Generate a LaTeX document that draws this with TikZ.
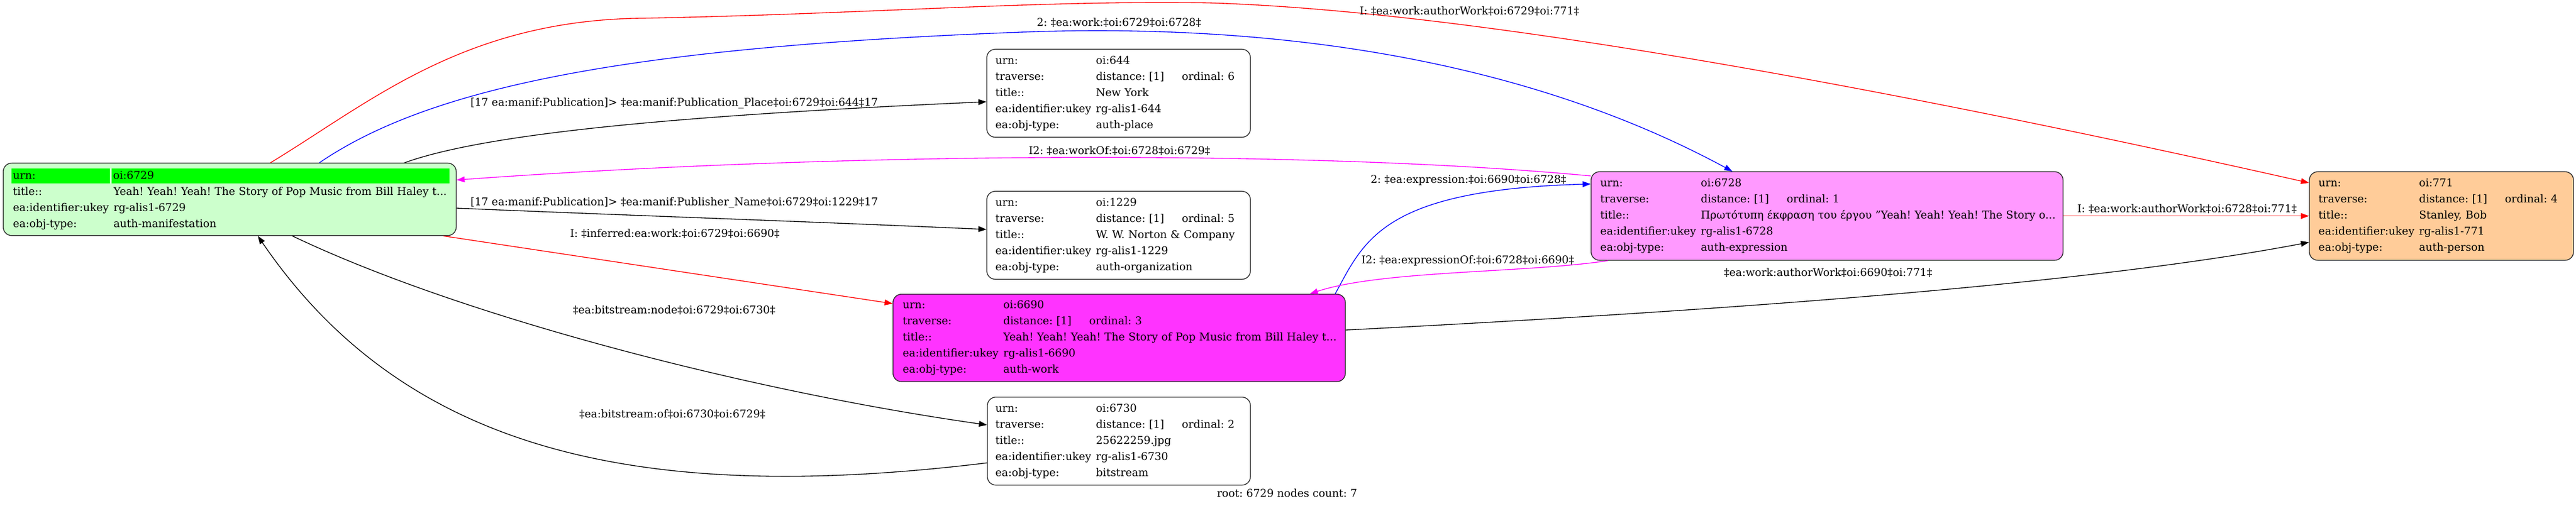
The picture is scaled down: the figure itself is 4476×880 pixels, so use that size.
\documentclass[tikz,border=0pt]{standalone}
\usepackage{fontspec}
\setmainfont{DejaVu Serif}
\usetikzlibrary{arrows.meta,calc}

\definecolor{mangreen}{HTML}{CCFFCC}
\definecolor{hdrgreen}{HTML}{00FF00}
\definecolor{workpink}{HTML}{FF33FF}
\definecolor{exprpink}{HTML}{FF99FF}
\definecolor{personorange}{HTML}{FFCC99}
\definecolor{edgemagenta}{HTML}{FF00FF}

\setlength{\fboxsep}{0pt}
\frenchspacing
\newcommand\recfont{\fontsize{14pt}{21pt}\selectfont}
\newcommand\fld[2]{\mbox{\makebox[131pt][l]{#1}#2}}
\newcommand\trv[1]{\fld{traverse:}{\makebox[112pt][l]{distance: [1]}ordinal: #1}}
\newcommand\hdrcell[2]{\colorbox{hdrgreen}{\rule[-5.5pt]{0pt}{19.5pt}\hspace{2.25pt}\makebox[#1][l]{#2}}}

\tikzset{every picture/.style={line width=0.75pt}}
\tikzset{
  recbox/.style={draw=black!85, line width=1pt, rounded corners=11pt, anchor=north west,
    align=left, font=\recfont, inner xsep=11.25pt, inner ysep=0pt},
  lnk/.style={line width=1pt, -{Triangle[length=10.5pt,width=7.5pt]}},
  lbl/.style={font=\recfont, inner sep=0pt, anchor=west}
}

\begin{document}
\begin{tikzpicture}[x=0.75pt,y=0.75pt,yscale=-1,xscale=1]
	\fill[white] (0,0) rectangle (4476,880);
	\useasboundingbox (0,0) rectangle (4476,880);
	
	%Shape: Rounded Rect [root 6729]
	\node[recbox, fill=mangreen, inner xsep=12.75pt, text width=564.75pt, minimum height=94.5pt] (n6729) at (5,283)
	{\mbox{\hspace*{-2.25pt}\hdrcell{126pt}{urn:}\hspace{2.25pt}\hdrcell{438pt}{oi:6729}}\\
	 \fld{title::}{Yeah! Yeah! Yeah! The Story of Pop Music from Bill Haley t...}\\
	 \fld{ea:identifier:ukey}{rg-alis1-6729}\\
	 \fld{ea:obj-type:}{auth-manifestation}};
	%Shape: Rounded Rect [644]
	\node[recbox, text width=321pt, minimum height=114.75pt] (n644) at (1714,85)
	{\fld{urn:}{oi:644}\\ \trv{6}\\ \fld{title::}{New York}\\
	 \fld{ea:identifier:ukey}{rg-alis1-644}\\ \fld{ea:obj-type:}{auth-place}};
	%Shape: Rounded Rect [1229]
	\node[recbox, text width=321pt, minimum height=114.75pt] (n1229) at (1714,332)
	{\fld{urn:}{oi:1229}\\ \trv{5}\\ \fld{title::}{W. W. Norton \& Company}\\
	 \fld{ea:identifier:ukey}{rg-alis1-1229}\\ \fld{ea:obj-type:}{auth-organization}};
	%Shape: Rounded Rect [6690]
	\node[recbox, fill=workpink, inner xsep=12.75pt, text width=564pt, minimum height=114pt] (n6690) at (1551,511)
	{\fld{urn:}{oi:6690}\\ \trv{3}\\ \fld{title::}{Yeah! Yeah! Yeah! The Story of Pop Music from Bill Haley t...}\\
	 \fld{ea:identifier:ukey}{rg-alis1-6690}\\ \fld{ea:obj-type:}{auth-work}};
	%Shape: Rounded Rect [6730]
	\node[recbox, inner xsep=10.5pt, text width=321.75pt, minimum height=114.75pt] (n6730) at (1715,690)
	{\fld{urn:}{oi:6730}\\ \trv{2}\\ \fld{title::}{25622259.jpg}\\
	 \fld{ea:identifier:ukey}{rg-alis1-6730}\\ \fld{ea:obj-type:}{bitstream}};
	%Shape: Rounded Rect [6728]
	\node[recbox, fill=exprpink, inner xsep=12pt, text width=591pt, minimum height=115.5pt] (n6728) at (2764,298)
	{\fld{urn:}{oi:6728}\\ \trv{1}\\ \fld{title::}{Πρωτότυπη έκφραση του έργου "Yeah! Yeah! Yeah! The Story o...}\\
	 \fld{ea:identifier:ukey}{rg-alis1-6728}\\ \fld{ea:obj-type:}{auth-expression}};
	%Shape: Rounded Rect [771]
	\node[recbox, fill=personorange, inner xsep=12pt, text width=320.25pt, minimum height=115.5pt] (n771) at (4012,298)
	{\fld{urn:}{oi:771}\\ \trv{4}\\ \fld{title::}{Stanley, Bob}\\
	 \fld{ea:identifier:ukey}{rg-alis1-771}\\ \fld{ea:obj-type:}{auth-person}};
	
	%Curve Lines [6729 -> 771]
	\draw[lnk, red] ($(n6729.north west)+(465,0)$) .. controls (640,180) and (800,40) .. (1100,32)
	  .. controls (1500,25) and (1800,0) .. (2100,5) .. controls (2600,20) and (3400,180) .. ($(n771.north west)+(0,20)$);
	%Curve Lines [6729 -> 6728]
	\draw[lnk, blue] ($(n6729.north west)+(550,0)$) .. controls (750,150) and (1100,80) .. (1800,55)
	  .. controls (2300,40) and (2700,130) .. ($(n6728.north west)+(246,0)$);
	%Curve Lines [6729 -> 644]
	\draw[lnk] ($(n6729.north west)+(698,0)$) .. controls (850,230) and (1200,200) .. ($(n644.north west)+(0,92)$);
	%Curve Lines [6729 -> 1229]
	\draw[lnk] ($(n6729.north east)+(0,79)$) .. controls (1100,375) and (1400,385) .. ($(n1229.north west)+(0,67)$);
	%Straight Lines [6729 -> 6690]
	\draw[lnk, red] ($(n6729.south east)+(-23,0)$) -- ($(n6690.north west)+(0,17)$);
	%Curve Lines [6729 -> 6730]
	\draw[lnk] ($(n6729.south west)+(503,0)$) .. controls (800,550) and (1300,680) .. ($(n6730.north west)+(0,49)$);
	%Curve Lines [6730 -> 6729]
	\draw[lnk] ($(n6730.north west)+(0,115)$) .. controls (1100,880) and (700,780) .. ($(n6729.south west)+(443,0)$);
	%Curve Lines [6728 -> 6729]
	\draw[lnk, edgemagenta] ($(n6728.north west)+(0,8)$) .. controls (2300,262) and (1500,262) .. ($(n6729.north east)+(0,30)$);
	%Curve Lines [6690 -> 6728]
	\draw[lnk, blue] ($(n6690.north west)+(769,0)$) .. controls (2370,420) and (2400,330) .. ($(n6728.north west)+(0,22)$);
	%Curve Lines [6728 -> 6690]
	\draw[lnk, edgemagenta] ($(n6728.south west)+(30,0)$) .. controls (2650,475) and (2400,470) .. ($(n6690.north west)+(725,0)$);
	%Straight Lines [6728 -> 771]
	\draw[lnk, red] (n6728.east) -- (n771.west);
	%Curve Lines [6690 -> 771]
	\draw[lnk] ($(n6690.north east)+(0,63)$) .. controls (2900,545) and (3600,500) .. ($(n771.south west)+(0,-32)$);
	
	% Text Node
	\node[lbl] (lwork) at (1801,39) {2: ‡ea:work:‡oi:6729‡oi:6728‡};
	% Text Node
	\node[lbl] (lauthroot) at (2362,19) {I: ‡ea:work:authorWork‡oi:6729‡oi:771‡};
	% Text Node
	\node[lbl] (lplace) at (817,180) {[17 ea:manif:Publication]> ‡ea:manif:Publication\_Place‡oi:6729‡oi:644‡17};
	% Text Node
	\node[lbl] (lworkof) at (1787,262) {I2: ‡ea:workOf:‡oi:6728‡oi:6729‡};
	% Text Node
	\node[lbl] (lpublisher) at (817,353) {[17 ea:manif:Publication]> ‡ea:manif:Publisher\_Name‡oi:6729‡oi:1229‡17};
	% Text Node
	\node[lbl] (lexpr) at (2381,314) {2: ‡ea:expression:‡oi:6690‡oi:6728‡};
	% Text Node
	\node[lbl] (linferred) at (990,406) {I: ‡inferred:ea:work:‡oi:6729‡oi:6690‡};
	% Text Node
	\node[lbl] (lexprof) at (2365,453) {I2: ‡ea:expressionOf:‡oi:6728‡oi:6690‡};
	% Text Node
	\node[lbl] (lauthexpr) at (3609,363) {I: ‡ea:work:authorWork‡oi:6728‡oi:771‡};
	% Text Node
	\node[lbl] (lauthwork) at (2995,474) {‡ea:work:authorWork‡oi:6690‡oi:771‡};
	% Text Node
	\node[lbl] (lbsnode) at (995,539) {‡ea:bitstream:node‡oi:6729‡oi:6730‡};
	% Text Node
	\node[lbl] (lbsof) at (1006,720) {‡ea:bitstream:of‡oi:6730‡oi:6729‡};
	% Text Node
	\node[lbl] (rootnote) at (2114,858) {root: 6729 nodes count: 7};
	
\end{tikzpicture}
\end{document}
